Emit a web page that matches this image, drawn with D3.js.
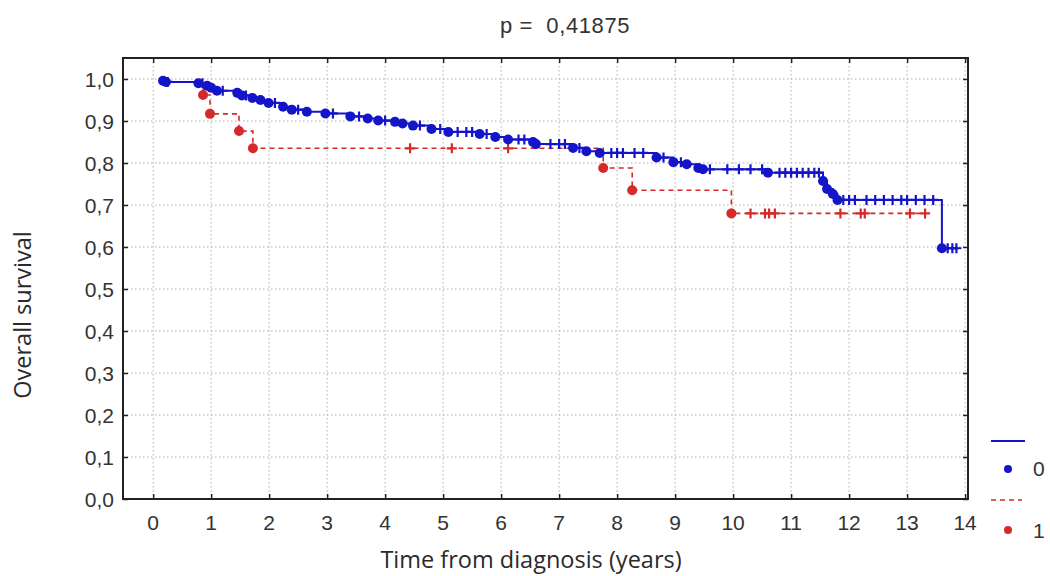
<!DOCTYPE html>
<html>
<head>
<meta charset="utf-8">
<script src="https://cdn.jsdelivr.net/npm/d3@7"></script>
<style>
  body { margin: 0; background: #fff; }
  svg { display: block; }
  .grid line { stroke: #b0b0b0; stroke-width: 1; stroke-dasharray: 1.5,2.5; }
  .tick-label { font-family: "Liberation Sans", Arial, sans-serif; font-size: 21px; fill: #333; }
  .title { font-family: "Liberation Sans", Arial, sans-serif; font-size: 22px; fill: #333; letter-spacing: 0.6px; }
  .axis-title { font-family: "Open Sans", "Noto Sans", sans-serif; font-size: 23.5px; fill: #2a2a2a; }
</style>
</head>
<body>
<svg id="chart"></svg>
<script>
// group 0 (blue) - failure times and survival after each drop
const blueEventTimes = [0.17, 0.22, 0.78, 0.93, 1.0, 1.1, 1.45, 1.53, 1.71, 1.85, 1.99, 2.24, 2.39, 2.65, 2.97,
    3.4, 3.7, 3.88, 4.17, 4.3, 4.48, 4.8, 5.09, 5.63, 5.9, 6.12, 6.55, 6.6, 7.24, 7.47, 7.7, 8.68, 8.97,
    9.2, 9.4, 9.48, 10.6, 11.55, 11.62, 11.72, 11.8, 13.6];
const blueEventSurv = [0.996, 0.993, 0.99, 0.984, 0.979, 0.972, 0.967, 0.961, 0.955, 0.95, 0.943, 0.934, 0.927, 0.922, 0.918,
    0.911, 0.906, 0.901, 0.898, 0.894, 0.889, 0.881, 0.874, 0.869, 0.862, 0.856, 0.85, 0.845, 0.836, 0.828, 0.824, 0.813, 0.802,
    0.797, 0.788, 0.785, 0.777, 0.757, 0.738, 0.726, 0.712, 0.597];
const blueCensorTimes = [0.25, 0.85, 1.2, 1.6, 2.1, 2.5, 3.1, 3.55, 4.0, 4.6, 4.95, 5.25, 5.4, 5.5, 5.75, 6.3, 6.4,
    6.85, 7.0, 7.1, 7.35, 7.9, 8.0, 8.1, 8.3, 8.45, 8.8, 9.1, 9.6, 9.9, 10.1, 10.3, 10.5, 10.8, 10.9, 11.0, 11.1,
    11.2, 11.3, 11.4, 11.48, 11.9, 12.0, 12.1, 12.3, 12.45, 12.6, 12.75, 12.9, 13.0, 13.15, 13.3, 13.45, 13.7, 13.78, 13.85];
const blueEnd = 13.88;

// group 1 (red)
const redEventTimes = [0.86, 0.98, 1.48, 1.72, 7.76, 8.26, 9.97];
const redEventSurv = [0.962, 0.917, 0.876, 0.835, 0.788, 0.735, 0.68];
const redCensorTimes = [4.43, 5.15, 6.12, 10.3, 10.55, 10.62, 10.72, 11.85, 12.2, 12.27, 13.05, 13.31];
const redEnd = 13.31;

const xTicks = d3.range(0, 15);
const yTicks = d3.range(0, 11).map(d => d / 10);
const pText = 'p =\u00a0 0,41875';
const legendLabels = ['0', '1'];

const width = 1050, height = 576;
const plotLeft = 123, plotRight = 968, plotTop = 58, plotBottom = 499;
const blue = '#1414c8', red = '#d42a2a';

const svg = d3.select('#chart').attr('width', width).attr('height', height);

let x = d3.scaleLinear().domain([-0.52, 14.05]).range([plotLeft, plotRight]);
let y = d3.scaleLinear().domain([0, 1.05]).range([plotBottom, plotTop]);

// grid
let grid = svg.append('g').attr('class', 'grid');
grid.selectAll('.vx').data(xTicks).enter().append('line')
    .attr('x1', d => x(d)).attr('x2', d => x(d)).attr('y1', plotTop).attr('y2', plotBottom);
grid.selectAll('.hy').data(yTicks.filter(d => d > 0)).enter().append('line')
    .attr('x1', plotLeft).attr('x2', plotRight).attr('y1', d => y(d)).attr('y2', d => y(d));

// axes via d3 (ticks pointing inside)
let xAxis = svg.append('g').attr('transform', 'translate(0,' + plotBottom + ')')
    .call(d3.axisBottom(x).tickValues(xTicks).tickSize(-5).tickFormat(''));
let xAxisTop = svg.append('g').attr('transform', 'translate(0,' + plotTop + ')')
    .call(d3.axisTop(x).tickValues(xTicks).tickSize(-5).tickFormat(''));
let yAxis = svg.append('g').attr('transform', 'translate(' + plotLeft + ',0)')
    .call(d3.axisLeft(y).tickValues(yTicks).tickSize(-5).tickFormat(''));
let yAxisRight = svg.append('g').attr('transform', 'translate(' + plotRight + ',0)')
    .call(d3.axisRight(y).tickValues(yTicks).tickSize(-5).tickFormat(''));
[xAxis, xAxisTop, yAxis, yAxisRight].forEach(g => {
    g.select('.domain').remove();
    g.selectAll('line').attr('stroke', '#222').attr('stroke-width', 1.5);
});

svg.append('rect')
    .attr('x', plotLeft).attr('y', plotTop).attr('width', plotRight - plotLeft).attr('height', plotBottom - plotTop)
    .attr('fill', 'none').attr('stroke', '#222').attr('stroke-width', 2);

// tick labels
svg.selectAll('.xl').data(xTicks).enter().append('text')
    .attr('class', 'tick-label').attr('text-anchor', 'middle')
    .attr('x', d => x(d)).attr('y', 530).text(d => d);
svg.selectAll('.yl').data(yTicks).enter().append('text')
    .attr('class', 'tick-label').attr('text-anchor', 'end')
    .attr('x', 114).attr('y', d => y(d) + 7.5).text(d => d.toFixed(1).replace('.', ','));

// titles
svg.append('text').attr('class', 'title').attr('text-anchor', 'middle')
    .attr('x', 565).attr('y', 33).text(pText);
svg.append('text').attr('class', 'axis-title').attr('text-anchor', 'middle')
    .attr('x', 531).attr('y', 568).text('Time from diagnosis (years)');
svg.append('text').attr('class', 'axis-title').attr('text-anchor', 'middle')
    .attr('transform', 'translate(31,315) rotate(-90)').text('Overall survival');

function survAt(times, surv, t, start) {
    let s = start;
    for (let i = 0; i < times.length; i++) {
        if (times[i] <= t) s = surv[i];
    }
    return s;
}

function stepPath(times, surv, t0, s0, end) {
    let path = 'M' + x(t0) + ',' + y(s0);
    let s = s0;
    times.forEach((t, i) => {
        path += ' L' + x(t) + ',' + y(s) + ' L' + x(t) + ',' + y(surv[i]);
        s = surv[i];
    });
    path += ' L' + x(end) + ',' + y(s);
    return path;
}

function drawGroup(times, surv, censors, t0, s0, end, color, dash, lw) {
    let g = svg.append('g');
    g.append('path')
        .attr('d', stepPath(times, surv, t0, s0, end))
        .attr('fill', 'none').attr('stroke', color).attr('stroke-width', lw)
        .attr('stroke-dasharray', dash);
    g.selectAll('.cens').data(censors).enter().append('path')
        .attr('d', t => {
            let cx = x(t), cy = y(survAt(times, surv, t, s0));
            return 'M' + (cx - 5) + ',' + cy + ' L' + (cx + 5) + ',' + cy + ' M' + cx + ',' + (cy - 5) + ' L' + cx + ',' + (cy + 5);
        })
        .attr('stroke', color).attr('stroke-width', 2.2);
    g.selectAll('.ev').data(times).enter().append('circle')
        .attr('cx', t => x(t)).attr('cy', (t, i) => y(surv[i])).attr('r', 5)
        .attr('fill', color);
}

drawGroup(redEventTimes, redEventSurv, redCensorTimes, 0.8, 0.99, redEnd, red, '5,4', 1.6);
drawGroup(blueEventTimes, blueEventSurv, blueCensorTimes, 0.17, 0.996, blueEnd, blue, null, 2);

// legend
let legend = svg.append('g');
legend.append('line').attr('x1', 991).attr('x2', 1025).attr('y1', 441).attr('y2', 441)
    .attr('stroke', blue).attr('stroke-width', 2);
legend.append('circle').attr('cx', 1008).attr('cy', 469).attr('r', 4).attr('fill', blue);
legend.append('line').attr('x1', 991).attr('x2', 1022).attr('y1', 500).attr('y2', 500)
    .attr('stroke', red).attr('stroke-width', 1.6).attr('stroke-dasharray', '5,4');
legend.append('circle').attr('cx', 1008).attr('cy', 530).attr('r', 4).attr('fill', red);
legend.selectAll('.ll').data(legendLabels).enter().append('text')
    .attr('class', 'tick-label')
    .attr('x', 1033).attr('y', (d, i) => i === 0 ? 476 : 538).text(d => d);
</script>
</body>
</html>
